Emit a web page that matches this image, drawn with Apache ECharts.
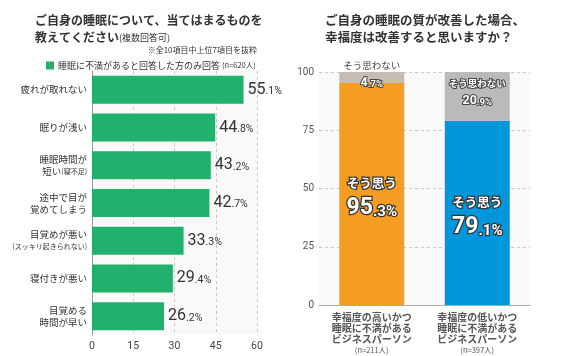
<!DOCTYPE html>
<html><head><meta charset="utf-8">
<script src="https://cdn.jsdelivr.net/npm/echarts@6/dist/echarts.min.js"></script>
<style>html,body{margin:0;padding:0;background:#fff}#c{width:564px;height:356px}</style>
</head><body><div id="c"></div>
<script>
// ---- data ----
const categories = ['疲れが取れない','眠りが浅い','睡眠時間が\n短い(寝不足)','途中で目が\n覚めてしまう','目覚めが悪い\n(スッキリ起きられない)','寝付きが悪い','目覚める\n時間が早い'];
const values = [55.1, 44.8, 43.2, 42.7, 33.3, 29.4, 26.2];
const xTicks = [0, 15, 30, 45, 60];
const legendName = '睡眠に不満があると回答した方のみ回答';
const legendN = '(n=620人)';

const groups = ['幸福度の高いかつ\n睡眠に不満がある\nビジネスパーソン', '幸福度の低いかつ\n睡眠に不満がある\nビジネスパーソン'];
const groupN = ['(n=211人)', '(n=397人)'];
const yesValues = [95.3, 79.1];
const noValues = [4.7, 20.9];
const yTicks = [0, 25, 50, 75, 100];
const yesLabel = 'そう思う';
const noLabel = 'そう思わない';

const CJK = '"Noto Sans CJK JP", sans-serif';
const NUM = 'Roboto, "Noto Sans CJK JP", sans-serif';

function splitNum(v) {
  const s = v.toFixed(1);
  const i = s.indexOf('.');
  return [s.slice(0, i), s.slice(i) + '%'];
}

const chart = echarts.init(document.getElementById('c'), null, {renderer: 'canvas'});
chart.setOption({
  animation: false,
  backgroundColor: '#fff',
  title: [
    {
      left: 30, top: 7,
      text: 'ご自身の睡眠について、当てはまるものを\n教えてください{s|(複数回答可)}',
      textStyle: {fontFamily: CJK, fontSize: 12, fontWeight: 'bold', color: '#333', lineHeight: 17,
        rich: {s: {fontFamily: CJK, fontSize: 9, fontWeight: 'normal', color: '#333', lineHeight: 17}}}
    },
    {
      right: 302, top: 41,
      text: '※全10項目中上位7項目を抜粋',
      textStyle: {fontFamily: CJK, fontSize: 8, fontWeight: 'normal', color: '#333'}
    },
    {
      left: 320, top: 7,
      text: 'ご自身の睡眠の質が改善した場合、\n幸福度は改善すると思いますか？',
      textStyle: {fontFamily: CJK, fontSize: 12.5, fontWeight: 'bold', color: '#333', lineHeight: 17}
    }
  ],
  legend: {
    left: 41, top: 56,
    itemWidth: 8, itemHeight: 8, itemGap: 4,
    icon: 'rect',
    data: [legendName],
    formatter: n => n + ' {n|' + legendN + '}',
    textStyle: {fontFamily: CJK, fontSize: 9, color: '#333', padding: [0, 0, 0, -1],
      rich: {n: {fontFamily: CJK, fontSize: 7.5, color: '#333'}}}
  },
  grid: [
    {left: 92, right: 307, top: 71, bottom: 21, show: true, backgroundColor: '#f9f9f9', borderWidth: 0},
    {left: 319, right: 34, top: 72, bottom: 51, show: true, backgroundColor: '#f9f9f9', borderWidth: 0}
  ],
  xAxis: [
    {
      gridIndex: 0, type: 'value',
      min: xTicks[0], max: xTicks[xTicks.length - 1], interval: xTicks[1] - xTicks[0],
      axisLine: {show: false}, axisTick: {show: false},
      splitLine: {show: true, lineStyle: {color: '#c8c8c8', type: [3, 3], width: 1}},
      axisLabel: {fontFamily: NUM, fontSize: 10.5, color: '#444', margin: 6}
    },
    {
      gridIndex: 1, type: 'category', data: groups,
      axisLine: {show: true, lineStyle: {color: '#aaa', width: 1}},
      axisTick: {show: false},
      axisLabel: {
        margin: 7, interval: 0,
        formatter: (v, i) => '{a|' + v.split('\n').join('}\n{a|') + '}\n{n|' + groupN[i] + '}',
        rich: {
          a: {fontFamily: CJK, fontSize: 10, fontWeight: 'bold', color: '#555', lineHeight: 11},
          n: {fontFamily: CJK, fontSize: 7.5, color: '#555', lineHeight: 10}
        }
      }
    }
  ],
  yAxis: [
    {
      gridIndex: 0, type: 'category', data: categories, inverse: true,
      axisLine: {show: true, lineStyle: {color: '#999', width: 1}},
      axisTick: {show: false},
      axisLabel: {
        margin: 5, interval: 0, align: 'right',
        formatter: v => v.split('\n').map(line => {
          const m = line.match(/^(.*?)(\(.*\))$/);
          if (m) return (m[1] ? '{a|' + m[1] + '}' : '') + '{s|' + m[2] + '}';
          return '{a|' + line + '}';
        }).join('\n'),
        rich: {
          a: {fontFamily: CJK, fontSize: 9.5, color: '#333', lineHeight: 12},
          s: {fontFamily: CJK, fontSize: 7, color: '#333', lineHeight: 12}
        }
      }
    },
    {
      gridIndex: 1, type: 'value',
      min: yTicks[0], max: yTicks[yTicks.length - 1], interval: yTicks[1] - yTicks[0],
      axisLine: {show: false}, axisTick: {show: false},
      splitLine: {show: true, lineStyle: {color: '#c8c8c8', type: [3, 3], width: 1}},
      axisLabel: {fontFamily: NUM, fontSize: 10, color: '#555', margin: 5}
    }
  ],
  series: [
    {
      name: legendName, type: 'bar', xAxisIndex: 0, yAxisIndex: 0,
      data: values, barWidth: 28,
      itemStyle: {color: '#22b06d'},
      label: {
        show: true, position: 'right', distance: 4,
        formatter: p => { const s = splitNum(p.value); return '{a|' + s[0] + '}{b|' + s[1] + '}'; },
        rich: {
          a: {fontFamily: NUM, fontSize: 16, color: '#333', verticalAlign: 'bottom'},
          b: {fontFamily: NUM, fontSize: 10.5, color: '#333', verticalAlign: 'bottom', padding: [0, 0, 1, 0]}
        }
      }
    },
    {
      name: yesLabel, type: 'bar', xAxisIndex: 1, yAxisIndex: 1, stack: 'q',
      barWidth: 65,
      data: yesValues.map((v, i) => ({value: v, itemStyle: {color: ['#f59d23', '#0096dc'][i]}})),
      label: {
        show: true, position: 'inside', offset: [0, 2],
        formatter: p => { const s = splitNum(p.value); return '{t|' + yesLabel + '}\n{a|' + s[0] + '}{b|' + s[1] + '}'; },
        rich: {
          t: {fontFamily: CJK, fontSize: 12.5, fontWeight: 'bold', color: '#fff', textBorderColor: '#333', textBorderWidth: 2.5, lineHeight: 22, align: 'center'},
          a: {fontFamily: NUM, fontSize: 23, fontWeight: 'bold', color: '#fff', textBorderColor: '#333', textBorderWidth: 2.5, lineHeight: 26, verticalAlign: 'bottom'},
          b: {fontFamily: NUM, fontSize: 15, fontWeight: 'bold', color: '#fff', textBorderColor: '#333', textBorderWidth: 2.5, lineHeight: 26, verticalAlign: 'bottom'}
        }
      }
    },
    {
      name: noLabel, type: 'bar', xAxisIndex: 1, yAxisIndex: 1, stack: 'q',
      barWidth: 65,
      data: noValues.map((v, i) => ({
        value: v,
        itemStyle: {color: ['#c5bdb4', '#bababa'][i]},
        label: i === 0 ? {
          offset: [0, -4],
          formatter: p => { const s = splitNum(p.value); return '{d|' + noLabel + '}\n{a|' + s[0] + '}{b|' + s[1] + '}'; }
        } : {
          offset: [0, -5],
          formatter: p => { const s = splitNum(p.value); return '{t|' + noLabel + '}\n{a|' + s[0] + '}{b|' + s[1] + '}'; }
        }
      })),
      label: {
        show: true, position: 'inside',
        rich: {
          d: {fontFamily: CJK, fontSize: 9.5, color: '#444', lineHeight: 16, align: 'center'},
          t: {fontFamily: CJK, fontSize: 9.5, fontWeight: 'bold', color: '#fff', textBorderColor: '#444', textBorderWidth: 2, lineHeight: 16, align: 'center'},
          a: {fontFamily: NUM, fontSize: 12.5, fontWeight: 'bold', color: '#fff', textBorderColor: '#444', textBorderWidth: 2, lineHeight: 16, verticalAlign: 'bottom'},
          b: {fontFamily: NUM, fontSize: 9.5, fontWeight: 'bold', color: '#fff', textBorderColor: '#444', textBorderWidth: 2, lineHeight: 16, verticalAlign: 'bottom'}
        }
      }
    }
  ]
});
</script>
</body></html>
